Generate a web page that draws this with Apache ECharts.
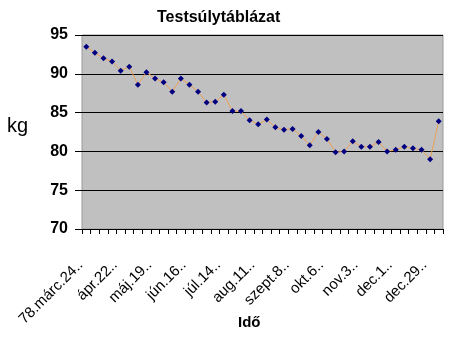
<!DOCTYPE html>
<html>
<head>
<meta charset="utf-8">
<script src="https://cdn.jsdelivr.net/npm/echarts@6/dist/echarts.min.js"></script>
<style>
  html, body { margin: 0; padding: 0; background: #fff; }
  #chart { width: 450px; height: 338px; }
</style>
</head>
<body>
<div id="chart"></div>
<script>
// weekly weigh-ins, only every 4th week gets a label (like the excel original)
var dateLabels = [
    '78.márc.24..', '', '', '',
    'ápr.22..', '', '', '',
    'máj.19..', '', '', '',
    'jún.16..', '', '', '',
    'júl.14..', '', '', '',
    'aug.11..', '', '', '',
    'szept.8..', '', '', '',
    'okt.6..', '', '', '',
    'nov.3..', '', '', '',
    'dec.1..', '', '', '',
    'dec.29..', ''
];
var weights = [
    93.5, 92.7, 92.0, 91.6, 90.4, 90.9, 88.6, 90.2, 89.4, 88.9,
    87.7, 89.4, 88.6, 87.7, 86.3, 86.4, 87.3, 85.2, 85.2, 84.0,
    83.5, 84.1, 83.1, 82.8, 82.9, 82.0, 80.8, 82.5, 81.6, 79.9,
    80.0, 81.3, 80.6, 80.6, 81.2, 80.0, 80.2, 80.6, 80.4, 80.2,
    79.0, 83.9
];
var yTicks = [70, 75, 80, 85, 90, 95];

var chart = echarts.init(document.getElementById('chart'));
var font = 'Liberation Sans, Arial, sans-serif';

var option = {
    backgroundColor: '#fff',
    animation: false,
    title: {
        text: 'Testsúlytáblázat',
        left: 152,
        top: 5,
        textStyle: { fontFamily: font, fontSize: 16, fontWeight: 'bold', color: '#000' }
    },
    grid: {
        left: 82, right: 7, top: 35, bottom: 109,
        show: true,
        backgroundColor: '#c0c0c0',
        borderColor: '#9a9a9a',
        borderWidth: 1
    },
    graphic: [
        { type: 'text', left: 7, top: 116,
          style: { text: 'kg', font: '20px ' + font, fill: '#000' } },
        { type: 'text', left: 238, top: 315,
          style: { text: 'Idő', font: 'bold 15px ' + font, fill: '#000' } }
    ],
    xAxis: {
        type: 'category',
        data: dateLabels,
        boundaryGap: true,
        axisLine: { lineStyle: { color: '#000', width: 1 } },
        axisTick: { show: true, interval: 0, length: 5, lineStyle: { color: '#000' } },
        axisLabel: {
            interval: 0, rotate: 45, margin: 28, padding: [0, 8, 0, 0],
            fontFamily: font, fontSize: 15, color: '#000'
        },
        splitLine: { show: false }
    },
    yAxis: {
        type: 'value',
        min: yTicks[0],
        max: yTicks[yTicks.length - 1],
        interval: 5,
        axisLine: { show: false },
        axisTick: { show: true, length: 7, lineStyle: { color: '#000' } },
        axisLabel: {
            margin: 14, fontFamily: font, fontSize: 16, fontWeight: 'bold', color: '#000'
        },
        splitLine: { show: true, lineStyle: { color: '#000', width: 1 } }
    },
    series: [{
        type: 'line',
        data: weights,
        symbol: 'diamond',
        symbolSize: 6,
        itemStyle: { color: '#000080' },
        lineStyle: { color: '#eea055', width: 1 }
    }]
};
chart.setOption(option);
</script>
</body>
</html>
